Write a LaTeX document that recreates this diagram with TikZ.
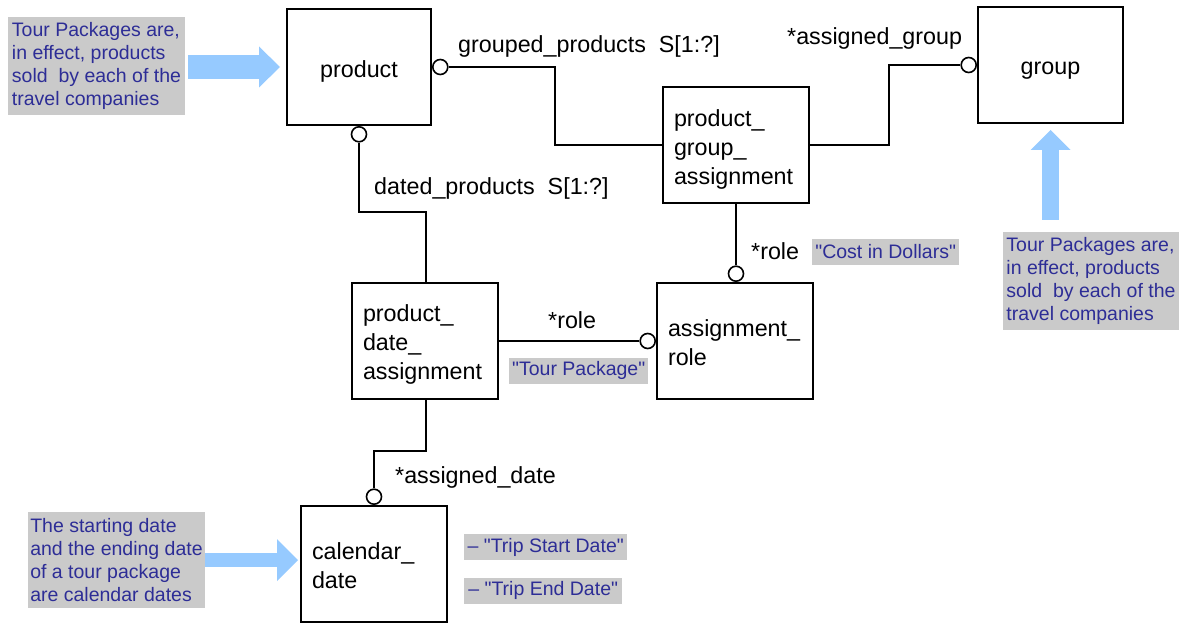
\documentclass[tikz,border=0pt]{standalone}
\usepackage{fontspec}
\setmainfont{Liberation Sans}
% same face without TeX ligature mapping, so " stays a straight quote
\newfontfamily\tagfont{Liberation Sans}
\usetikzlibrary{arrows.meta,calc}

\definecolor{notetext}{RGB}{45,45,150}
\definecolor{notefill}{RGB}{202,202,202}
\definecolor{hintblue}{RGB}{150,202,255}

% invisible strut that sets the height of a box's first text line
\newcommand{\firstline}[1]{\rule{0pt}{#1}}

\begin{document}
\begin{tikzpicture}[x=1pt,y=-1pt,
  entity/.style={draw, line width=2pt, fill=white, inner sep=0pt,
    font=\fontsize{23.3}{29}\selectfont},
  centred/.style={entity, align=center, minimum width=#1, minimum height=116},
  leftbox/.style={entity, align=left, inner xsep=10pt, text width=#1-22pt,
    minimum width=#1, minimum height=116},
  link/.style={line width=2pt},
  endcirc/.style={circle, draw, line width=1.6pt, fill=white,
    minimum size=15pt, inner sep=0pt},
  role/.style={anchor=west, inner sep=0pt, font=\fontsize{23.3}{27}\selectfont},
  note/.style={fill=notefill, text=notetext, align=left, inner sep=0pt,
    font=\fontsize{19.5}{23}\selectfont},
  tag/.style={note, anchor=west, inner xsep=3pt, minimum height=26pt,
    font=\tagfont\fontsize{19.5}{23}\selectfont},
  hint/.style={draw=hintblue, line width=#1}
]
\useasboundingbox (0,0) rectangle (1187,623);

% entities
\node[centred=144] (product) at (359,67) {\raisebox{-4pt}[\height][\depth]{product}};
\node[centred=145] (group) at (1050.5,65) {\raisebox{-5.5pt}[\height][\depth]{group}};
\node[leftbox=146] (pga) at (736,145) {\firstline{26pt}product\_\\group\_\\assignment};
\node[leftbox=146] (pda) at (425,341) {\firstline{23pt}product\_\\date\_\\assignment};
\node[leftbox=156] (arole) at (735,341) {\firstline{20pt}assignment\_\\role};
\node[leftbox=146] (cal) at (374,564) {\firstline{20pt}calendar\_\\date};

% optional-end circles
\node[endcirc, anchor=west] (c1) at (product.east) {};
\node[endcirc, anchor=east] (c2) at (group.west) {};
\node[endcirc, anchor=south] (c3) at (arole.north -| pga.south) {};
\node[endcirc, anchor=north] (c4) at (product.south) {};
\node[endcirc, anchor=east] (c5) at (arole.west |- pda.east) {};
\node[endcirc, anchor=south] (c6) at (cal.north) {};

% relationships
\draw[link] (c1.east) -- ++(106,0) |- (pga.west);
\draw[link] (pga.east) -- ++(79,0) |- (c2.west);
\draw[link] (pga.south) -- (c3.north);
\draw[link] (c4.south) -- ++(0,69) -| ([xshift=1pt]pda.north);
\draw[link] (pda.east) -- (c5.west);
\draw[link] ([xshift=1pt]pda.south) -- ++(0,51) -| (c6.north);

% attribute names
\node[role] (gp) at (458,46) {grouped\_products\ \ S[1:?]};
\node[role] (ag) at (787,38) {*assigned\_group};
\node[role] (dp) at (374,188) {dated\_products\ \ S[1:?]};
\node[role] (r1) at (751,251) {*role};
\node[role] (r2) at (548,320) {*role};
\node[role] (ad) at (395,477) {*assigned\_date};

% value tags
\node[tag, minimum width=147] (cost) at (812,252) {"Cost in Dollars"};
\node[tag, minimum width=139] (tour) at (509,370.5) {"Tour Package"};
\node[tag, minimum width=163] (tsd) at (464,547) {– "Trip Start Date"};
\node[tag, minimum width=158] (ted) at (464,590.5) {– "Trip End Date"};

% explanatory notes
\node[note, minimum width=177, minimum height=98] (n1) at (96.5,66)
  {Tour Packages are,\\in effect, products\\sold\ \ by each of the\\travel companies};
\node[note, minimum width=176, minimum height=98] (n2) at (1091,281)
  {Tour Packages are,\\in effect, products\\sold\ \ by each of the\\travel companies};
\node[note, minimum width=177, minimum height=96] (n3) at (116.5,560)
  {The starting date\\and the ending date\\of a tour package\\are calendar dates};

% pointer arrows
\draw[hint=24pt, -{Triangle[width=41pt,length=21pt,line width=0pt]},
  shorten <=3pt, shorten >=6pt]
  (n1.east |- product.west) -- (product.west);
\draw[hint=17pt, -{Triangle[width=40pt,length=20pt,line width=0pt]},
  shorten <=12pt, shorten >=6pt]
  (group.south |- n2.north) -- (group.south);
\draw[hint=14pt, -{Triangle[width=42pt,length=21pt,line width=0pt]},
  shorten >=2pt]
  (n3.east) -- (n3.east -| cal.west);
\end{tikzpicture}
\end{document}
